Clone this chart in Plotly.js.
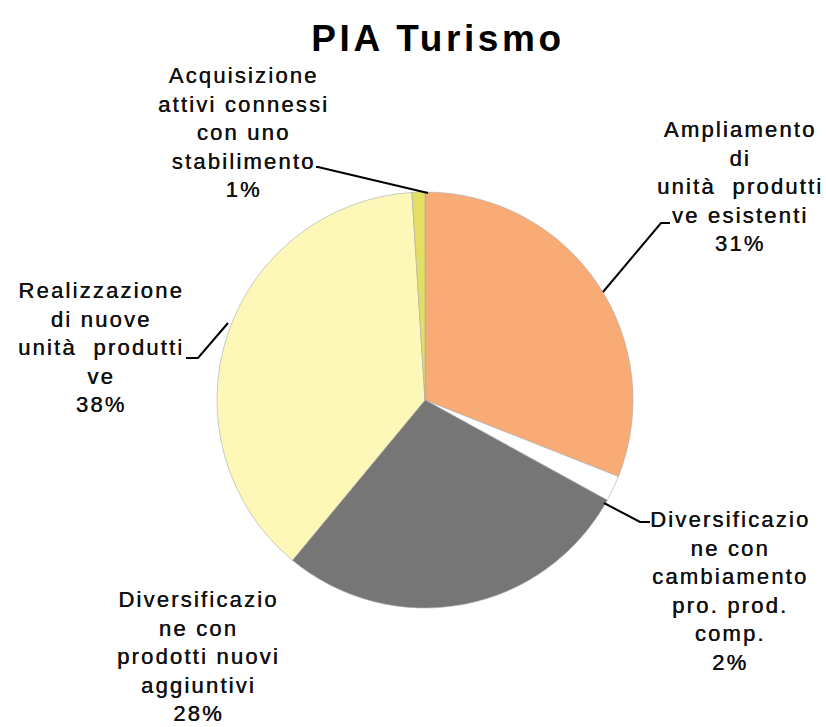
<!DOCTYPE html>
<html>
<head>
<meta charset="utf-8">
<script src="https://cdn.plot.ly/plotly-3.0.1.min.js"></script>
<style>html,body{margin:0;padding:0;background:#fff;}</style>
</head>
<body>
<div id="chart" style="width:826px;height:727px;"></div>
<script>
// ---- data ----
const categories = [
  "Ampliamento di unità produttive esistenti",
  "Diversificazione con cambiamento pro. prod. comp.",
  "Diversificazione con prodotti nuovi aggiuntivi",
  "Realizzazione di nuove unità produttive",
  "Acquisizione attivi connessi con uno stabilimento"
];
const values = [31, 2, 28, 38, 1];
const labelLines = [
  ["Ampliamento", "di", "unità  produtti", "ve esistenti"],
  ["Diversificazio", "ne con", "cambiamento", "pro. prod.", "comp."],
  ["Diversificazio", "ne con", "prodotti nuovi", "aggiuntivi"],
  ["Realizzazione", "di nuove", "unità  produtti", "ve"],
  ["Acquisizione", "attivi connessi", "con uno", "stabilimento"]
];
const sliceColors = ["#F9AB76", "#FFFFFF", "#767676", "#FDF8B8", "#E3DF62"];

// ---- layout helpers ----
const W = 826, H = 727;
const px = x => x / W;
const py = y => 1 - y / H;
const cx = 425, cy = 400, R = 208;

const total = values.reduce((a, b) => a + b, 0);
function spaced(s, ls) { return '<span style="letter-spacing:' + ls + 'px">' + s + '</span>'; }
function labelText(i) {
  const lines = labelLines[i].map(l => spaced(l, 2.2));
  lines.push(spaced(Math.round(values[i] / total * 100) + '%', 2.2));
  return lines.join('<br>');
}

const labelPos = [
  [740, 186], [730, 591], [198, 656], [101, 348], [243, 133]
];
const annotations = labelPos.map((p, i) => ({
  xref: 'paper', yref: 'paper', x: px(p[0]), y: py(p[1]),
  xanchor: 'center', yanchor: 'middle', align: 'center', showarrow: false,
  text: labelText(i),
  font: {family: 'Liberation Sans, Arial, sans-serif', size: 22, color: '#111111',
         shadow: '0.4px 0 0 #111111'}
}));

function pathFrom(pts) {
  return pts.map((p, i) => (i ? 'L' : 'M') + px(p[0]).toFixed(5) + ',' + py(p[1]).toFixed(5)).join(' ');
}
const leaders = [
  [[603, 292], [661, 223], [670, 223]],
  [[604, 503], [640, 522], [650, 522]],
  [[228, 323], [198, 358], [186, 358]],
  [[428, 193], [318, 167], [316, 167]]
];
const shapes = leaders.map(pts => ({
  type: 'path', xref: 'paper', yref: 'paper', path: pathFrom(pts),
  line: {color: '#000000', width: 2}
}));

const trace = {
  type: 'pie',
  labels: categories,
  values: values,
  sort: false,
  direction: 'clockwise',
  rotation: 0,
  textinfo: 'none',
  hoverinfo: 'label+percent',
  marker: {colors: sliceColors, line: {color: 'rgba(170,170,170,0.6)', width: 1}},
  domain: {x: [px(cx - R), px(cx + R)], y: [py(cy + R), py(cy - R)]},
  showlegend: false
};

const layout = {
  width: W, height: H,
  margin: {l: 0, r: 0, t: 0, b: 0},
  paper_bgcolor: '#ffffff',
  title: {
    text: '<b>' + spaced('PIA Turismo', 3.6) + '</b>',
    x: px(438), y: py(38), xanchor: 'center', yanchor: 'middle',
    xref: 'container', yref: 'container',
    font: {family: 'Liberation Sans, Arial, sans-serif', size: 37, color: '#000000'}
  },
  annotations: annotations,
  shapes: shapes,
  showlegend: false
};

Plotly.newPlot('chart', [trace], layout, {displayModeBar: false, staticPlot: true});
</script>
</body>
</html>
